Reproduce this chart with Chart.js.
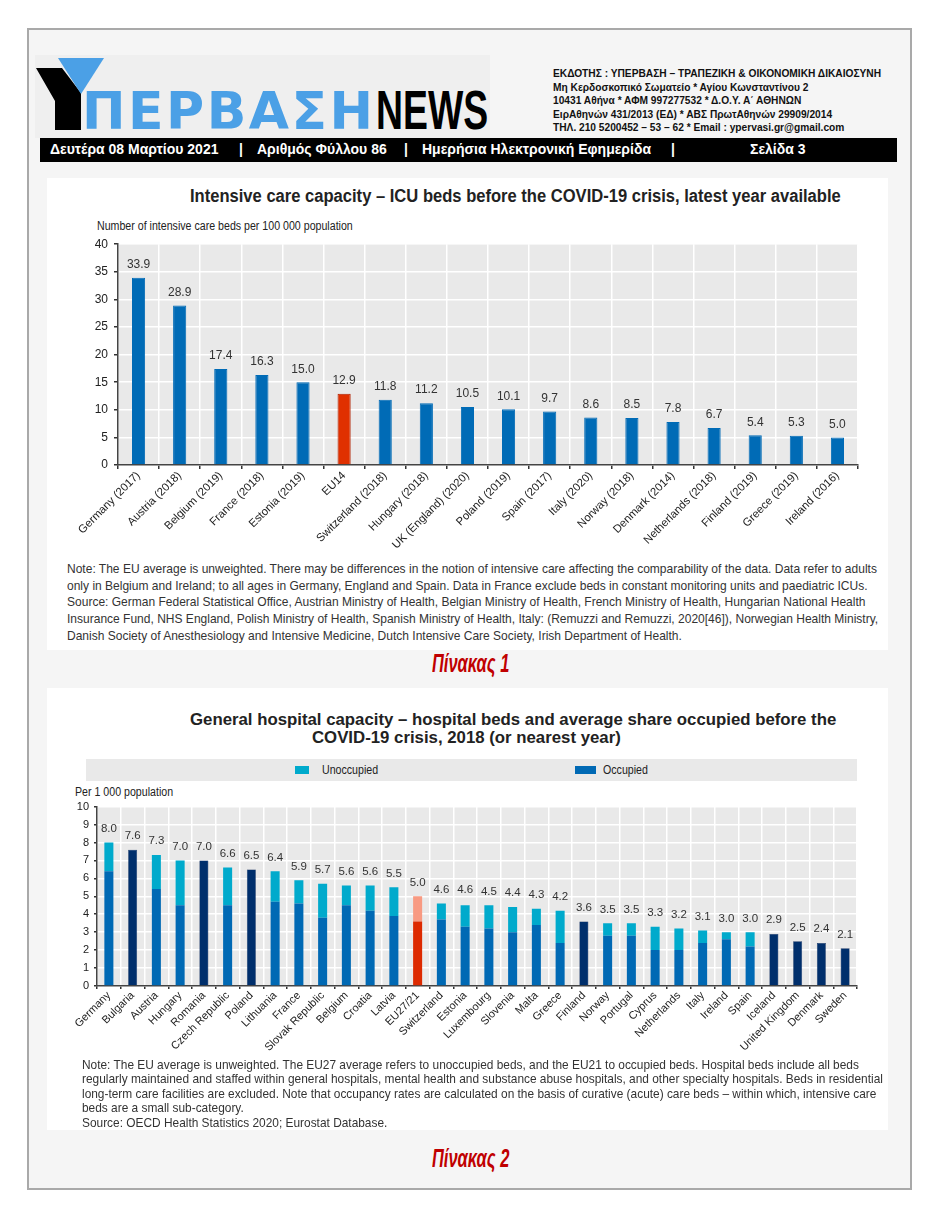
<!DOCTYPE html>
<html><head><meta charset="utf-8">
<script src="https://cdn.jsdelivr.net/npm/chart.js@4.4.1/dist/chart.umd.min.js"></script>
<style>
html,body{margin:0;padding:0}
body{width:940px;height:1218px;background:#fff;position:relative;overflow:hidden;font-family:"Liberation Sans",Arial,sans-serif;color:#222}
.a{position:absolute;white-space:nowrap}
.sx{transform-origin:left top}
#frame{left:27px;top:28px;width:881px;height:1158px;border:2px solid #a9a9a9;background:#f5f5f5}
#logoBox{left:35px;top:55px;width:455px;height:83px;background:#efefef}
.hdr{font-size:10.2px;font-weight:bold;color:#111;line-height:13.5px}
#bar{left:40px;top:138px;width:857px;height:24px;background:#000}
.bt{color:#fff;font-weight:bold;font-size:14px;top:141px}
.panel{background:#fff}
.pin{color:#c00000;font-weight:bold;font-style:italic;font-size:25px;line-height:28px;transform:scaleX(0.66);transform-origin:left top}
canvas{position:absolute}
</style></head><body>
<div id="frame" class="a"></div>
<div id="logoBox" class="a"></div>
<svg class="a" style="left:0;top:0" width="500" height="140">
  <polygon points="36,68 62,68 81,93 81,130 55,130 55,101" fill="#000"/>
  <polygon points="58,58 104,58 81,94" fill="#4ba0e6"/>
</svg>
<div class="a" style="left:82px;top:81px;font-family:'DejaVu Sans',sans-serif;font-weight:bold;font-size:52px;letter-spacing:2.5px;color:#4ba0e6;line-height:60px">ΠΕΡΒΑΣΗ</div>
<div class="a sx" style="left:376px;top:80px;font-weight:bold;font-size:55px;color:#000;line-height:60px;transform:scaleX(0.68)">NEWS</div>
<div class="a hdr" style="left:553px;top:67px">ΕΚΔΟΤΗΣ : ΥΠΕΡΒΑΣΗ – ΤΡΑΠΕΖΙΚΗ &amp; ΟΙΚΟΝΟΜΙΚΗ ΔΙΚΑΙΟΣΥΝΗ<br>Μη Κερδοσκοπικό Σωματείο * Αγίου Κωνσταντίνου 2<br>10431 Αθήνα * ΑΦΜ 997277532 * Δ.Ο.Υ. Α΄ ΑΘΗΝΩΝ<br>ΕιρΑθηνών 431/2013 (ΕΔ) * ΑΒΣ ΠρωτΑθηνών 29909/2014<br>ΤΗΛ. 210 5200452 – 53 – 62 * Email : ypervasi.gr@gmail.com</div>
<div id="bar" class="a"></div>
<div class="a bt" style="left:50px">Δευτέρα 08 Μαρτίου 2021</div>
<div class="a bt" style="left:239px">|</div>
<div class="a bt" style="left:257px">Αριθμός Φύλλου 86</div>
<div class="a bt" style="left:404px">|</div>
<div class="a bt" style="left:422px">Ημερήσια Ηλεκτρονική Εφημερίδα</div>
<div class="a bt" style="left:671px">|</div>
<div class="a bt" style="left:750px">Σελίδα 3</div>

<div class="a panel" style="left:47px;top:178px;width:841px;height:472px"></div>
<div class="a sx" style="left:190px;top:186px;font-weight:bold;font-size:18px;color:#222;transform:scaleX(0.92)">Intensive care capacity – ICU beds before the COVID-19 crisis, latest year available</div>
<div class="a sx" style="left:97px;top:219px;font-size:12.5px;color:#222;transform:scaleX(0.85)">Number of intensive care beds per 100 000 population</div>
<canvas id="c1" width="825" height="327" style="left:55px;top:231px"></canvas>
<div class="a sx" style="left:67px;top:561px;font-size:13.5px;line-height:16.7px;color:#333;transform:scaleX(0.89)">Note: The EU average is unweighted. There may be differences in the notion of intensive care affecting the comparability of the data. Data refer to adults<br>only in Belgium and Ireland; to all ages in Germany, England and Spain. Data in France exclude beds in constant monitoring units and paediatric ICUs.<br>Source: German Federal Statistical Office, Austrian Ministry of Health, Belgian Ministry of Health, French Ministry of Health, Hungarian National Health<br>Insurance Fund, NHS England, Polish Ministry of Health, Spanish Ministry of Health, Italy: (Remuzzi and Remuzzi, 2020[46]), Norwegian Health Ministry,<br>Danish Society of Anesthesiology and Intensive Medicine, Dutch Intensive Care Society, Irish Department of Health.</div>
<div class="a pin" style="left:432px;top:649px">Πίνακας 1</div>

<div class="a panel" style="left:47px;top:688px;width:841px;height:442px"></div>
<div class="a" style="left:190px;top:710px;font-weight:bold;font-size:16.8px;line-height:19px;color:#222">General hospital capacity – hospital beds and average share occupied before the</div>
<div class="a" style="left:312px;top:728px;font-weight:bold;font-size:16.8px;line-height:19px;color:#222">COVID-19 crisis, 2018 (or nearest year)</div>
<div class="a" style="left:86px;top:759px;width:771px;height:22px;background:#e9e9e9"></div>
<div class="a" style="left:295px;top:766px;width:14px;height:8px;background:#00aacc"></div>
<div class="a sx" style="left:322px;top:763px;font-size:12.5px;color:#222;transform:scaleX(0.85)">Unoccupied</div>
<div class="a" style="left:575px;top:766px;width:21px;height:8px;background:#0069b4"></div>
<div class="a sx" style="left:603px;top:763px;font-size:12.5px;color:#222;transform:scaleX(0.85)">Occupied</div>
<div class="a sx" style="left:75px;top:785px;font-size:12.5px;color:#222;transform:scaleX(0.85)">Per 1 000 population</div>
<canvas id="c2" width="825" height="264" style="left:55px;top:795px"></canvas>
<div class="a" style="left:82px;top:1058px;font-size:11.9px;line-height:14.4px;color:#333">Note: The EU average is unweighted. The EU27 average refers to unoccupied beds, and the EU21 to occupied beds. Hospital beds include all beds<br>regularly maintained and staffed within general hospitals, mental health and substance abuse hospitals, and other specialty hospitals. Beds in residential<br>long-term care facilities are excluded. Note that occupancy rates are calculated on the basis of curative (acute) care beds – within which, intensive care<br>beds are a small sub-category.<br>Source: OECD Health Statistics 2020; Eurostat Database.</div>
<div class="a pin" style="left:432px;top:1144px">Πίνακας 2</div>

<script>
// ---------- Chart 1 data ----------
const icuCategories = ["Germany (2017)","Austria (2018)","Belgium (2019)","France (2018)","Estonia (2019)","EU14","Switzerland (2018)","Hungary (2018)","UK (England) (2020)","Poland (2019)","Spain (2017)","Italy (2020)","Norway (2018)","Denmark (2014)","Netherlands (2018)","Finland (2019)","Greece (2019)","Ireland (2016)"];
const icuBeds = [33.9,28.9,17.4,16.3,15.0,12.9,11.8,11.2,10.5,10.1,9.7,8.6,8.5,7.8,6.7,5.4,5.3,5.0];
const icuAxisMax = 40;
const icuAxisStep = 5;

// ---------- Chart 2 data ----------
const hospCategories = ["Germany","Bulgaria","Austria","Hungary","Romania","Czech Republic","Poland","Lithuania","France","Slovak Republic","Belgium","Croatia","Latvia","EU27/21","Switzerland","Estonia","Luxembourg","Slovenia","Malta","Greece","Finland","Norway","Portugal","Cyprus","Netherlands","Italy","Ireland","Spain","Iceland","United Kingdom","Denmark","Sweden"];
const hospTotalLabels = [8.0,7.6,7.3,7.0,7.0,6.6,6.5,6.4,5.9,5.7,5.6,5.6,5.5,5.0,4.6,4.6,4.5,4.4,4.3,4.2,3.6,3.5,3.5,3.3,3.2,3.1,3.0,3.0,2.9,2.5,2.4,2.1];
const hospOccupied = [6.4,null,5.4,4.5,null,4.5,null,4.7,4.6,3.8,4.5,4.2,3.9,3.6,3.7,3.3,3.2,3.0,3.4,2.4,null,2.8,2.8,2.0,2.0,2.4,2.6,2.2,null,null,null,null];
const hospUnoccupied = [1.6,null,1.9,2.5,null,2.1,null,1.7,1.3,1.9,1.1,1.4,1.6,1.4,0.9,1.2,1.3,1.4,0.9,1.8,null,0.7,0.7,1.3,1.2,0.7,0.4,0.8,null,null,null,null];
const hospTotalOnly = [null,7.6,null,null,7.0,null,6.5,null,null,null,null,null,null,null,null,null,null,null,null,null,3.6,null,null,null,null,null,null,null,2.9,2.5,2.4,2.1];
const hospAxisMax = 10;
const hospAxisStep = 1;

const ARIAL = '"Liberation Sans",Arial,sans-serif';

const plotBg = {
  id:'plotBg',
  beforeDraw(chart){
    const {ctx, chartArea:a} = chart;
    ctx.save(); ctx.fillStyle = '#e9e9e9';
    ctx.fillRect(a.left, a.top, a.right-a.left, a.bottom-a.top);
    ctx.restore();
  }
};
function valueLabels(values, font, gap){
  return {
    id:'valueLabels',
    afterDatasetsDraw(chart){
      const ctx = chart.ctx, x = chart.scales.x, y = chart.scales.y;
      ctx.save(); ctx.font = font; ctx.fillStyle = '#333';
      ctx.textAlign = 'center'; ctx.textBaseline = 'bottom';
      values.forEach((v,i)=>{
        ctx.fillText(v.toFixed(1), x.getPixelForValue(i), y.getPixelForValue(v) - gap);
      });
      ctx.restore();
    }
  };
}

Chart.defaults.animation = false;

new Chart(document.getElementById('c1'), {
  type:'bar',
  data:{labels:icuCategories, datasets:[{
    label:'ICU beds', data:icuBeds,
    backgroundColor: icuCategories.map(c => c==='EU14' ? '#e03000' : '#006bb6'),
    borderColor: icuCategories.map(c => c==='EU14' ? '#b02000' : '#006bb6'),
    borderWidth:1, barPercentage:0.32, categoryPercentage:1
  }]},
  options:{
    responsive:false, animation:false,
    layout:{padding:{top:2,right:22,left:0,bottom:0}},
    plugins:{legend:{display:false}, tooltip:{enabled:false}},
    scales:{
      x:{
        grid:{color:'#fff', lineWidth:1.5, offset:true, drawTicks:true, tickLength:4, tickColor:'#333'},
        border:{display:true, color:'#444', width:1.5},
        ticks:{autoSkip:false, minRotation:45, maxRotation:45, color:'#222', font:{family:ARIAL, size:11.3}, padding:0},
        afterFit(s){ s.height = 93; }
      },
      y:{
        min:0, max:icuAxisMax,
        grid:{color:'#fff', lineWidth:1.5, drawTicks:true, tickLength:4, tickColor:'#333'},
        border:{display:true, color:'#444', width:1.5},
        ticks:{stepSize:icuAxisStep, color:'#222', font:{family:ARIAL, size:12}, padding:6},
        afterFit(s){ s.width = 63; }
      }
    }
  },
  plugins:[plotBg, valueLabels(icuBeds, '12px '+ARIAL, 7)]
});

const isEU = c => c==='EU27/21';
new Chart(document.getElementById('c2'), {
  type:'bar',
  data:{labels:hospCategories, datasets:[
    {label:'Occupied', data:hospOccupied, stack:'s',
     backgroundColor: hospCategories.map(c => isEU(c) ? '#dd2a00' : '#0069b4'),
     barPercentage:0.38, categoryPercentage:1},
    {label:'Unoccupied', data:hospUnoccupied, stack:'s',
     backgroundColor: hospCategories.map(c => isEU(c) ? '#f89a82' : '#00aacc'),
     barPercentage:0.38, categoryPercentage:1},
    {label:'Total', data:hospTotalOnly, stack:'s',
     backgroundColor:'#002f6c', borderColor:'#001f50', borderWidth:0.5,
     barPercentage:0.38, categoryPercentage:1}
  ]},
  options:{
    responsive:false, animation:false,
    layout:{padding:{top:2,right:23,left:0,bottom:0}},
    plugins:{legend:{display:false}, tooltip:{enabled:false}},
    scales:{
      x:{
        stacked:true,
        grid:{color:'#fff', lineWidth:1.5, offset:true, drawTicks:true, tickLength:3, tickColor:'#333'},
        border:{display:true, color:'#444', width:1.5},
        ticks:{autoSkip:false, minRotation:45, maxRotation:45, color:'#222', font:{family:ARIAL, size:11}, padding:0},
        afterFit(s){ s.height = 73; }
      },
      y:{
        stacked:true, min:0, max:hospAxisMax,
        grid:{color:'#fff', lineWidth:1.5, drawTicks:true, tickLength:3, tickColor:'#333'},
        border:{display:true, color:'#444', width:1.5},
        ticks:{stepSize:hospAxisStep, color:'#222', font:{family:ARIAL, size:11}, padding:5},
        afterFit(s){ s.width = 42; }
      }
    }
  },
  plugins:[plotBg, valueLabels(hospTotalLabels, '11.5px '+ARIAL, 8)]
});
</script>
</body></html>
